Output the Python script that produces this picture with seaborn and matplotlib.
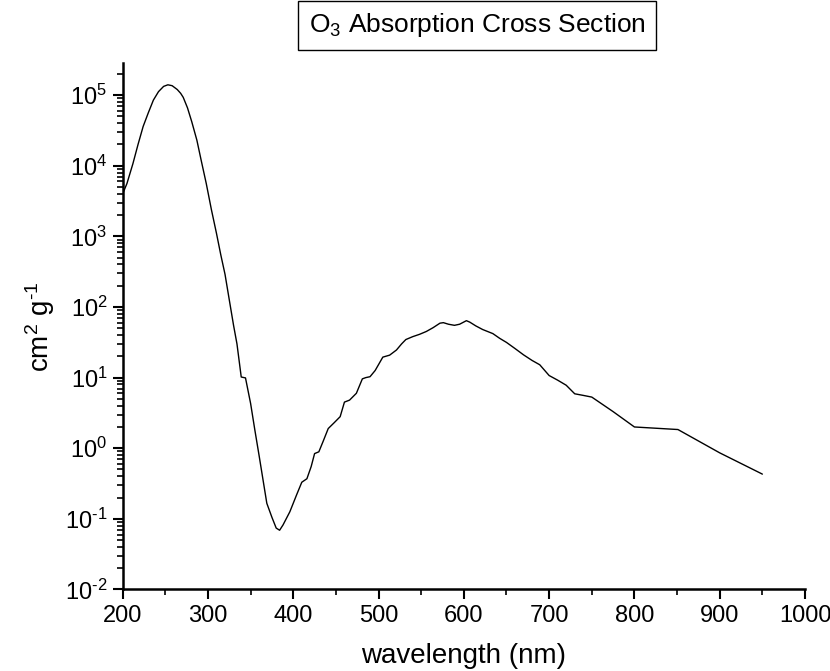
import matplotlib
matplotlib.use("Agg")
import matplotlib.pyplot as plt
import seaborn as sns
import pandas as pd
import numpy as np
from matplotlib.ticker import FixedLocator, MultipleLocator, NullFormatter, FuncFormatter

wavelength = [200, 205, 212, 218, 224, 230, 236, 242, 248, 253, 258, 264, 268, 271, 276, 281, 287,
              292, 298, 304, 310, 315, 320, 325, 330, 334, 339, 344, 350, 355, 360, 365,
              369, 375, 380, 384, 388, 396, 404, 410, 416, 421, 425, 430, 435, 441, 448,
              455, 460, 466, 474, 481, 485, 490, 496, 505, 513, 521, 527, 532, 540, 548,
              556, 564, 572, 576, 582, 589, 595, 603, 607, 614, 622, 634, 642, 650, 660,
              670, 680, 689, 700, 710, 720, 730, 740, 750, 775, 800, 851, 900, 950]
cross_section = [4.0e3, 5.6e3, 1.07e4, 2.0e4, 3.6e4, 5.6e4, 8.5e4, 1.12e5, 1.33e5, 1.40e5,
                 1.36e5, 1.20e5, 1.06e5, 9.3e4, 6.6e4, 4.2e4, 2.3e4, 1.2e4, 5.6e3, 2.4e3, 1.1e3,
                 5.5e2, 2.9e2, 1.26e2, 55, 30, 10.2, 9.9, 4.3, 1.8, 0.78, 0.33,
                 0.166, 0.105, 0.074, 0.069, 0.082, 0.126, 0.22, 0.33, 0.37, 0.55, 0.84,
                 0.89, 1.25, 1.9, 2.3, 2.8, 4.5, 4.8, 6.0, 9.6, 10.0, 10.3, 12.6, 19.5,
                 20.8, 24.6, 30, 34.6, 38, 41, 45, 51, 59, 60, 57, 55, 57, 64, 61, 54, 48,
                 42, 36, 31.5, 25.8, 21, 17.5, 15.2, 10.7, 9.2, 7.8, 5.9, 5.6, 5.3, 3.3,
                 2.0, 1.84, 0.86, 0.43]

y_decades = [-2, -1, 0, 1, 2, 3, 4, 5]
x_ticks = [200, 300, 400, 500, 600, 700, 800, 900, 1000]

title_text = "O$_3$ Absorption Cross Section"
x_label = "wavelength (nm)"
y_label = "cm$^2$ g$^{\\text{-}1}$"

df = pd.DataFrame({"wavelength": wavelength, "sigma": cross_section})

sns.set_theme(style="white")
FONT = ["Liberation Sans", "DejaVu Sans"]
plt.rcParams["font.family"] = FONT
plt.rcParams["mathtext.fontset"] = "custom"
plt.rcParams["mathtext.rm"] = "Liberation Sans"
plt.rcParams["mathtext.it"] = "Liberation Sans"
plt.rcParams["mathtext.bf"] = "Liberation Sans"
plt.rcParams["axes.unicode_minus"] = False

fig = plt.figure(figsize=(8.3, 6.71), dpi=100)
ax = fig.add_axes([0.1478, 0.1215, 0.9699 - 0.1478, 0.9061 - 0.1215])

sns.lineplot(data=df, x="wavelength", y="sigma", ax=ax, color="black",
             linewidth=1.0, sort=False, estimator=None)

ax.set_yscale("log")
ax.set_xlim(200, 1000)
ax.set_ylim(1e-2, 2.85e5)


def pow10(v, pos):
    e = int(round(np.log10(v)))
    if e < 0:
        return "$10^{\\text{-}%d}$" % (-e)
    return "$10^{%d}$" % e


major_y = [10.0 ** d for d in y_decades]
minor_y = [m * 10.0 ** d for d in y_decades for m in range(2, 10) if m * 10.0 ** d <= 2.85e5]

ax.xaxis.set_major_locator(FixedLocator(x_ticks))
ax.xaxis.set_minor_locator(MultipleLocator(50))
ax.yaxis.set_major_locator(FixedLocator(major_y))
ax.yaxis.set_major_formatter(FuncFormatter(pow10))
ax.yaxis.set_minor_locator(FixedLocator(minor_y))
ax.yaxis.set_minor_formatter(NullFormatter())

for side in ["top", "right"]:
    ax.spines[side].set_visible(False)
for side in ["left", "bottom"]:
    ax.spines[side].set_color("black")
    ax.spines[side].set_linewidth(1.8)

ax.tick_params(axis="both", which="major", direction="out", length=7, width=1.5,
               color="black", labelsize=17, labelcolor="black", left=True, bottom=True, pad=4)
ax.tick_params(axis="both", which="minor", direction="out", length=4, width=1.2,
               color="black", left=True, bottom=True)

ax.set_xlabel(x_label, fontsize=20, color="black", labelpad=12)
ax.set_ylabel(y_label, fontsize=20, color="black", labelpad=6)

fig.text(0.575, 0.962, title_text, fontsize=19, ha="center", va="center", color="black",
         bbox=dict(boxstyle="square,pad=0.4", facecolor="white", edgecolor="black", linewidth=1.0))

fig.savefig("out.png", dpi=100, facecolor="white")
